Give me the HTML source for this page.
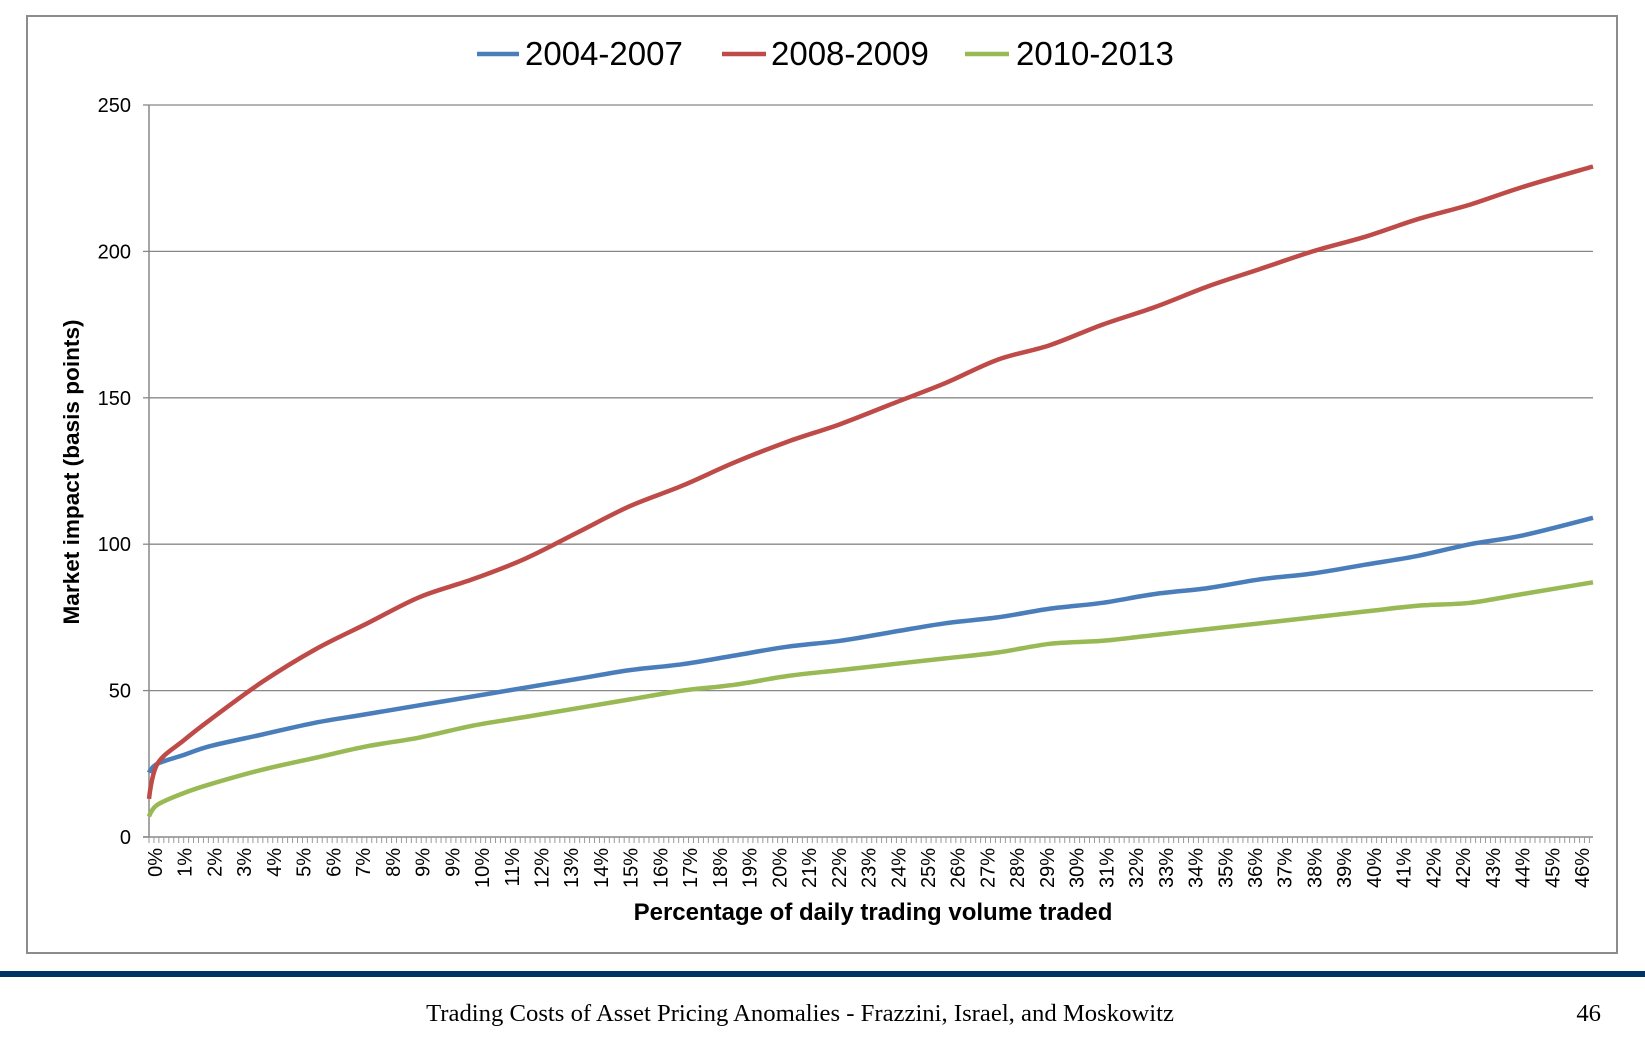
<!DOCTYPE html>
<html><head><style>
body{margin:0;background:#fff;width:1645px;height:1040px;overflow:hidden}
</style></head><body>
<svg id="s" width="1645" height="1040" xmlns="http://www.w3.org/2000/svg" font-family="Liberation Sans, sans-serif">
<rect x="27" y="16" width="1590" height="937" fill="#fff" stroke="#8c8c8c" stroke-width="2"/>
<rect x="0" y="971" width="1645" height="6" fill="#003366"/>
<text x="800" y="1021" font-family="Liberation Serif, serif" font-size="24.7" text-anchor="middle">Trading Costs of Asset Pricing Anomalies - Frazzini, Israel, and Moskowitz</text>
<text x="1601" y="1021" font-family="Liberation Serif, serif" font-size="24.7" text-anchor="end">46</text>
<g id="g"></g>
<line x1="477" y1="54" x2="519" y2="54" stroke="#4a7ebb" stroke-width="4.5"/>
<text x="525" y="65" font-size="33">2004-2007</text>
<line x1="722" y1="54" x2="766" y2="54" stroke="#be4b48" stroke-width="4.5"/>
<text x="771" y="65" font-size="33">2008-2009</text>
<line x1="965" y1="54" x2="1009" y2="54" stroke="#98b954" stroke-width="4.5"/>
<text x="1016" y="65" font-size="33">2010-2013</text>
<text transform="translate(79,472) rotate(-90)" font-size="22.6" font-weight="bold" text-anchor="middle">Market impact (basis points)</text>
<text x="873" y="920" font-size="24" font-weight="bold" text-anchor="middle">Percentage of daily trading volume traded</text>
</svg>
<script>
var g=document.getElementById('g'),h='';
function Y(v){return 837-v*2.928}
for(var v=0;v<=250;v+=50){var y=Y(v);
 if(v>0)h+='<line x1="149" y1="'+y+'" x2="1593" y2="'+y+'" stroke="#888" stroke-width="1.3"/>';
 h+='<line x1="143" y1="'+y+'" x2="149" y2="'+y+'" stroke="#888" stroke-width="1.3"/>';
 h+='<text x="131" y="'+(y+7)+'" font-size="20" text-anchor="end">'+v+'</text>';}
h+='<line x1="149" y1="105" x2="149" y2="837" stroke="#888" stroke-width="1.5"/>';
h+='<line x1="143" y1="837" x2="1593" y2="837" stroke="#888" stroke-width="1.5"/>';
for(var x=149;x<=1594;x+=4.95)h+='<line x1="'+x+'" y1="837" x2="'+x+'" y2="843" stroke="#999" stroke-width="1"/>';
var labs=[0,1,2,3,4,5,6,7,8,9,9];for(var i=10;i<=42;i++)labs.push(i);labs.push(42,43,44,45,46);
for(var i=0;i<labs.length;i++){var cx=155+i*29.73;
 h+='<text transform="translate('+(cx+7)+',848) rotate(-90)" font-size="20" text-anchor="end">'+labs[i]+'%</text>';}
var xs=[142,150,175,200,250,300,350,400,450,500,550,600,650,700,750,800,850,900,950,1000,1050,1100,1150,1200,1250,1300,1350,1400,1450,1517];
var R=[13,25,33,40,53,64,73,82,88,95,104,113,120,128,135,141,148,155,163,168,175,181,188,194,200,205,211,216,222,229];
var B=[22,25,28,31,35,39,42,45,48,51,54,57,59,62,65,67,70,73,75,78,80,83,85,88,90,93,96,100,103,109];
var G=[7,11,15,18,23,27,31,34,38,41,44,47,50,52,55,57,59,61,63,66,67,69,71,73,75,77,79,80,83,87];
function P(a,c){var p=[];for(var i=0;i<xs.length;i++)p.push([149+(xs[i]-142)*1.0502,Y(a[i])]);
 var d='M'+p[0][0].toFixed(1)+','+p[0][1].toFixed(1);
 for(var i=0;i<p.length-1;i++){var p0=p[Math.max(0,i-1)],p1=p[i],p2=p[i+1],p3=p[Math.min(p.length-1,i+2)];
  var t=(i==0)?0:1/6;
  d+='C'+(p1[0]+(p2[0]-p0[0])*t).toFixed(1)+','+(p1[1]+(p2[1]-p0[1])*t).toFixed(1)+' '+(p2[0]-(p3[0]-p1[0])/6).toFixed(1)+','+(p2[1]-(p3[1]-p1[1])/6).toFixed(1)+' '+p2[0].toFixed(1)+','+p2[1].toFixed(1);}
 return '<path d="'+d+'" fill="none" stroke="'+c+'" stroke-width="4.5" stroke-linejoin="round"/>';}
h+=P(B,'#4a7ebb')+P(G,'#98b954')+P(R,'#be4b48');
g.innerHTML=h;
</script>
</body></html>
